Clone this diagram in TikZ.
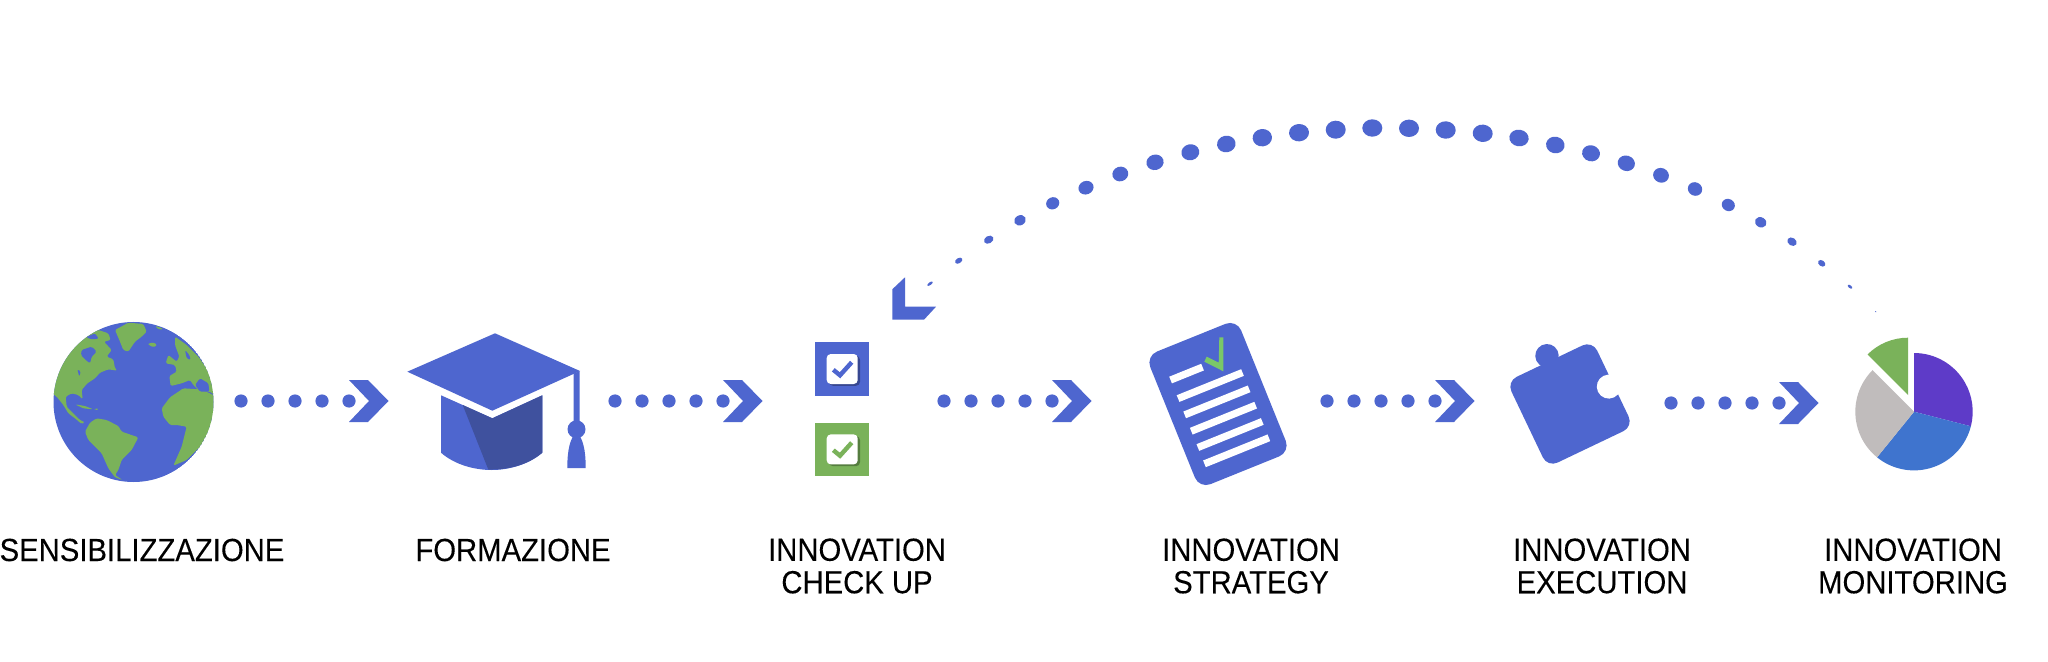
\documentclass[tikz,border=0pt]{standalone}
\usepackage{fontspec}
\setmainfont{Liberation Sans}[FakeStretch=0.915,FakeBold=0.12]
\definecolor{mainblue}{RGB}{78,102,207}
\definecolor{darkblue}{RGB}{63,81,158}
\definecolor{leaf}{RGB}{122,178,90}
\definecolor{brightleaf}{RGB}{122,200,104}
\definecolor{piepurple}{RGB}{94,59,200}
\definecolor{pieblue}{RGB}{63,116,206}
\definecolor{piegray}{RGB}{192,188,188}
\tikzset{
  lab/.style={font=\fontsize{16}{16.25}\selectfont,align=center,text=black,inner sep=0pt},
  dotsline/.style={draw=mainblue,line width=6.6pt,line cap=round,dash pattern=on 0pt off 13.5pt},
  chevronmark/.style={fill=mainblue},
  docline/.style={draw=white,line width=3.6pt},
  tickline/.style={line width=2.2pt},
}
\newcommand{\chevronat}[1]{\fill[chevronmark,shift={(#1)}] (0,-21) -- (19,-21) -- (39.5,0) -- (19,21) -- (0,21) -- (20,0) -- cycle;}
\newcommand{\checkbox}[3]{% y of square, fill colour, tick
  \fill[#2] (815.3,#1) rectangle +(53.7,53.4);
  \fill[#3!70!black,rounded corners=2pt] (829,#1+13.5) rectangle +(31,30);
  \fill[white,rounded corners=2pt] (826.7,#1+11.7) rectangle +(31,30);
  \draw[#3,tickline] (833.3,#1+27.5) -- (840,#1+33) -- (851.7,#1+20);
}
\begin{document}
\begin{tikzpicture}[x=0.5pt,y=-0.5pt]
\useasboundingbox (0,0) rectangle (2048,662);
\fill[white] (0,0) rectangle (2048,662);

% ---------- globe
\coordinate (globe) at (133.5,402);
\begin{scope}
\clip (globe) circle (80);
\fill[mainblue] (globe) circle (80);
\begin{scope}[shift={(0,300)},x=0.16667pt,y=-0.16667pt,rounded corners=0.7pt]
\fill[leaf] (150,275) -- (175,215) -- (200,165) -- (235,125) -- (270,100) -- (295,90) -- (325,100) -- (332,120) -- (312,125) -- (335,150) -- (320,170) -- (340,178) -- (345,205) -- (352,212) -- (325,208) -- (300,218) -- (285,235) -- (262,250) -- (245,270) -- (248,298) -- (235,285) -- (215,280) -- (197,290) -- (200,320) -- (215,335) -- (240,360) -- (255,367) -- (245,372) -- (225,355) -- (205,340) -- (190,315) -- (170,290) -- cycle;
\fill[mainblue] (245,150) -- (275,140) -- (290,155) -- (275,170) -- (270,190) -- (255,178) -- (243,165) -- cycle;
\fill[mainblue] (232,208) -- (242,214) -- (238,230) -- cycle;
\fill[mainblue] (258,112) -- (285,100) -- (296,116) -- (275,118) -- cycle;
\fill[leaf] (345,90) -- (385,68) -- (430,72) -- (440,95) -- (425,110) -- (405,125) -- (385,155) -- (370,150) -- (360,125) -- cycle;
\fill[leaf] (442,132) -- (460,127) -- (472,135) -- (460,142) -- cycle;
\fill[leaf] (465,78) -- (480,82) -- (490,88) -- (475,88) -- cycle;
\fill[leaf] (255,395) -- (270,368) -- (290,355) -- (320,360) -- (355,378) -- (365,395) -- (415,412) -- (395,450) -- (365,480) -- (355,510) -- (345,525) -- (368,540) -- (345,532) -- (325,505) -- (305,460) -- (265,420) -- cycle;
\fill[leaf] (225,313) -- (255,318) -- (280,328) -- (250,325) -- cycle;
\fill[leaf] (283,325) -- (298,327) -- (285,331) -- cycle;
\fill[leaf] (485,325) -- (510,292) -- (550,265) -- (600,268) -- (625,278) -- (650,290) -- (650,345) -- (625,395) -- (600,440) -- (560,480) -- (520,497) -- (545,440) -- (560,380) -- (530,375) -- (510,375) -- (490,350) -- cycle;
\fill[leaf] (508,228) -- (530,215) -- (525,195) -- (497,190) -- (505,165) -- (530,185) -- (538,170) -- (525,135) -- (525,110) -- (560,135) -- (595,170) -- (630,220) -- (650,250) -- (650,290) -- (630,275) -- (600,275) -- (580,255) -- (570,240) -- (545,250) -- (512,258) -- cycle;
\fill[mainblue] (555,150) -- (568,165) -- (572,180) -- (560,175) -- cycle;
\fill[mainblue] (600,235) -- (625,250) -- (628,275) -- (600,275) -- (585,255) -- cycle;
\end{scope}
\end{scope}

% ---------- cap
\coordinate (cap) at (492,400);
\fill[mainblue] (495,333.3) -- (580,371) -- (492.3,410.7) -- (407.3,371.7) -- cycle;
\fill[mainblue] (441,395.3) -- (492.3,418.3) -- (542.3,395.3) -- (542.3,452.7) .. controls (528,465) and (508,470) .. (491.7,470) .. controls (475,470) and (455,465) .. (441,452.7) -- cycle;
\fill[darkblue] (462.7,405) -- (492.3,418.3) -- (542.3,395.3) -- (542.3,452.7) .. controls (528,465) and (508,470) .. (488.3,469.5) -- cycle;
\fill[mainblue] (573.7,373.5) -- (579.5,371) -- (579.5,425) -- (573.7,425) -- cycle;
\fill[mainblue] (576.5,429.3) circle (9);
\fill[mainblue] (576.5,432) .. controls (570,438) and (567.3,450) .. (567.3,468) -- (585.7,468) .. controls (585.7,450) and (583,438) .. (576.5,432) -- cycle;

% ---------- check boxes
\coordinate (boxes) at (842,409);
\checkbox{342.3}{mainblue}{mainblue}
\checkbox{422.7}{leaf}{leaf}

% ---------- document
\begin{scope}[shift={(1218,404)},rotate=22]
\fill[mainblue,rounded corners=6pt] (-49,-71.5) rectangle (49,71.5);
\draw[docline] (-35,-40) -- (-0.5,-40);
\foreach \b in {-20,-2.4,15.2,32.8,50.4}
  \draw[docline] (-35,\b) -- (34.5,\b);
\end{scope}
\fill[brightleaf] (1219.3,337.3) -- (1223.3,337.3) -- (1223.3,371.3) -- (1204.3,361.7) -- (1206.7,356.7) -- (1218.7,362.7) -- cycle;

% ---------- puzzle
\begin{scope}[shift={(1570,404)},rotate=25.5]
\fill[mainblue,rounded corners=5.5pt] (-47.5,-47.5) rectangle (47.5,47.5);
\fill[mainblue] (0,-53.5) circle (11.7);
\fill[white] (42.5,1) circle (12);
\end{scope}

% ---------- pie (y axis points down, so arc angles are mirrored)
\coordinate (pie) at (1914,411.7);
\fill[piepurple] (pie) -- ++(90:29.35pt) arc[start angle=-90,end angle=14.4,radius=58.7] -- cycle;
\fill[pieblue] (pie) -- ++(-14.4:29.35pt) arc[start angle=14.4,end angle=129,radius=58.7] -- cycle;
\fill[piegray] (pie) -- ++(-129:29.35pt) arc[start angle=129,end angle=225,radius=58.7] -- cycle;
\fill[leaf] (1908,395) -- (1908,337.7) arc[start angle=-90,end angle=-135,radius=57.3] -- cycle;

% ---------- forward connectors
\foreach \n/\xa in {1/241,2/615,3/944,4/1327,5/1671}{
  \pgfmathsetmacro{\ya}{\n==5 ? 403 : 401}
  \coordinate (s\n) at (\xa,\ya);
  \coordinate (t\n) at (\xa+108,\ya);
  \draw[dotsline] (s\n) -- ([xshift=0.2pt]t\n);
  \chevronat{t\n}
}

% ---------- return arc (dots swell towards the top of the arc)
\coordinate (arcstart) at (1876,311);
\coordinate (arcend) at (930,284);
\foreach \x/\y/\rx/\ry/\r in {
930/283.7/3.2/1.4/35, 958.7/260.7/4/2.6/32, 988.7/239.7/5/3.7/30, 1020/220.3/6/5/28,
1052.7/203.3/6.7/6/25, 1086/187.7/7.7/6.7/22, 1120.3/174/8/7.3/18, 1155/162.3/8.7/7.7/15,
1190.3/152.3/9/8/12, 1226.3/144/9.3/8.3/10, 1262.3/137.7/9.7/8.7/6, 1299/132.7/10/8.7/4,
1335.7/129.7/10/9/2, 1372.3/128/10/8.7/0,
1409/128.3/10/8.7/0, 1445.7/130/10/8.7/-3, 1482.7/133.3/10/8.7/-5, 1519/138/9.7/8.3/-9,
1555.3/145/9.3/8.3/-12, 1591/153.3/9/8/-15, 1626.3/163.3/8.7/7.7/-18, 1661/175.3/8/7.3/-22,
1695/189/7.3/6.7/-25, 1728.3/205/6.7/6/-28, 1760.7/222.3/6/5/-30, 1792/241.7/5/3.9/-33,
1821.7/263.3/4/2.9/-36, 1850/286.7/2.7/1.4/-38, 1875.7/311.7/0.8/0.5/-40}
  \fill[mainblue] (\x,\y) circle[x radius=\rx,y radius=\ry,rotate=\r];
\fill[mainblue] (905,277.3) -- (892.3,289.3) -- (892.3,319.7) -- (924,319.7) -- (936,306.7) -- (905,306.7) -- cycle;

% ---------- labels
\node[lab] (l1) at (142,550) {SENSIBILIZZAZIONE};
\node[lab] (l2) at (513,550) {FORMAZIONE};
\node[lab] (l3) at (857,566) {INNOVATION\\CHECK UP};
\node[lab] (l4) at (1251,566) {INNOVATION\\STRATEGY};
\node[lab] (l5) at (1602,566) {INNOVATION\\EXECUTION};
\node[lab] (l6) at (1913,566) {INNOVATION\\MONITORING};
\end{tikzpicture}
\end{document}
